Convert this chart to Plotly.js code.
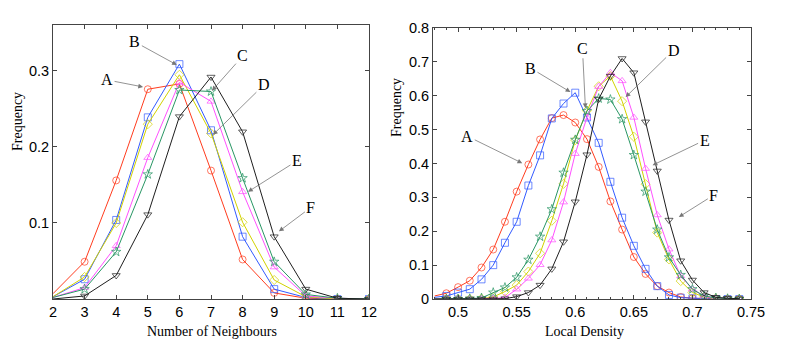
<!DOCTYPE html>
<html>
<head>
<meta charset="utf-8">
<script src="https://cdn.plot.ly/plotly-3.0.1.min.js"></script>
<style>
  body { margin: 0; background: #fff; }
  #chart { width: 789px; height: 341px; }
</style>
</head>
<body>
<div id="chart"></div>
<script>
// left panel: number of neighbours
var nbX = [2, 3, 4, 5, 6, 7, 8, 9, 10, 11, 12];
var nbA = [0.007, 0.049, 0.156, 0.276, 0.283, 0.169, 0.052, 0.008, 0.001, 0, 0];
var nbB = [0.003, 0.026, 0.104, 0.239, 0.309, 0.222, 0.082, 0.013, 0.002, 0, 0];
var nbYellow = [0.003, 0.029, 0.100, 0.230, 0.295, 0.218, 0.101, 0.025, 0.003, 0, 0];
var nbMagenta = [0.002, 0.015, 0.070, 0.186, 0.285, 0.260, 0.141, 0.042, 0.004, 0.001, 0];
var nbGreen = [0.002, 0.013, 0.062, 0.164, 0.275, 0.273, 0.159, 0.049, 0.006, 0.001, 0];
var nbBlack = [0, 0.004, 0.031, 0.111, 0.240, 0.292, 0.220, 0.082, 0.013, 0.001, 0];

// right panel: local density
var ldX = [0.48, 0.49, 0.50, 0.51, 0.52, 0.53, 0.54, 0.55, 0.56, 0.57, 0.58, 0.59, 0.60,
           0.61, 0.62, 0.63, 0.64, 0.65, 0.66, 0.67, 0.68, 0.69, 0.70, 0.71, 0.72, 0.73, 0.74];
var ldA = [0.009, 0.017, 0.035, 0.054, 0.093, 0.146, 0.228, 0.317, 0.397, 0.471, 0.534, 0.543, 0.521,
           0.472, 0.390, 0.288, 0.205, 0.124, 0.074, 0.038, 0.019, 0.006, 0.002, 0.001, 0, 0, 0];
var ldB = [0.005, 0.009, 0.019, 0.029, 0.058, 0.100, 0.166, 0.228, 0.335, 0.424, 0.533, 0.577, 0.609,
           0.536, 0.461, 0.346, 0.240, 0.157, 0.089, 0.038, 0.012, 0.004, 0.002, 0.001, 0, 0, 0];
var ldGreen = [0, 0, 0, 0.001, 0.003, 0.019, 0.034, 0.064, 0.116, 0.184, 0.265, 0.373, 0.470,
               0.555, 0.592, 0.589, 0.531, 0.425, 0.317, 0.205, 0.123, 0.071, 0.029, 0.009, 0.003, 0.001, 0];
var ldYellow = [0, 0, 0, 0, 0.001, 0.006, 0.022, 0.041, 0.081, 0.135, 0.231, 0.340, 0.469,
                0.556, 0.628, 0.658, 0.584, 0.479, 0.339, 0.196, 0.117, 0.053, 0.019, 0.006, 0.002, 0, 0];
var ldMagenta = [0, 0, 0, 0, 0, 0.002, 0.004, 0.029, 0.061, 0.101, 0.174, 0.286, 0.429,
                 0.536, 0.627, 0.668, 0.644, 0.536, 0.385, 0.248, 0.147, 0.068, 0.029, 0.008, 0.003, 0.001, 0];
var ldBlack = [0, 0, 0, 0, 0, 0, 0.001, 0.007, 0.019, 0.041, 0.089, 0.169, 0.287,
               0.426, 0.590, 0.658, 0.710, 0.668, 0.523, 0.378, 0.233, 0.113, 0.056, 0.019, 0.005, 0.002, 0.001];

var styles = [
  {color: 'rgb(255, 60, 30)', symbol: 'circle-open'},
  {color: 'rgb(50, 90, 255)', symbol: 'square-open'},
  {color: 'rgb(210, 210, 0)', symbol: 'diamond-open'},
  {color: 'rgb(255, 80, 255)', symbol: 'triangle-up-open'},
  {color: 'rgb(40, 150, 100)', symbol: 'star-open'},
  {color: 'rgb(30, 30, 30)', symbol: 'triangle-down-open'}
];

// first point sits on the left axis with no marker drawn
var sizes = (n) => Array.from({length: n}, (_, i) => i === 0 ? 0 : 7);

var mk = (x, y, s, xa, ya) => ({
  x: x, y: y, xaxis: xa, yaxis: ya,
  type: 'scatter', mode: 'lines+markers',
  line: {color: s.color, width: 1},
  marker: {symbol: s.symbol, size: sizes(x.length), color: s.color, line: {width: 1, color: s.color}},
  showlegend: false, cliponaxis: true
});

var left = [nbA, nbB, nbYellow, nbMagenta, nbGreen, nbBlack];
var right = [ldA, ldB, ldYellow, ldMagenta, ldGreen, ldBlack];
var data = [];
left.forEach((y, i) => data.push(mk(nbX, y, styles[i], 'x', 'y')));
right.forEach((y, i) => data.push(mk(ldX, y, styles[i], 'x2', 'y2')));

var W = 789, H = 341;
var tickFont = {family: 'Liberation Sans, Arial, sans-serif', size: 14.5, color: '#000'};
var axisBase = {
  showline: true, mirror: 'ticks', linecolor: '#444', linewidth: 1,
  ticks: 'inside', ticklen: 4, tickcolor: '#444',
  showgrid: false, zeroline: false, tickfont: tickFont
};

var serif = {family: 'Liberation Serif, Times New Roman, serif', size: 14, color: '#000'};
var letter = {family: 'Liberation Serif, Times New Roman, serif', size: 16, color: '#000'};

var txt = (text, px, py, angle) => ({
  text: text, xref: 'paper', yref: 'paper', x: px / W, y: 1 - py / H,
  xanchor: 'center', yanchor: 'middle',
  showarrow: false, font: serif, textangle: angle || 0
});
var lab = (text, xr, yr, x, y, ax, ay) => ({
  text: text, xref: xr, yref: yr, x: x, y: y, ax: ax, ay: ay,
  showarrow: true, arrowhead: 2, arrowsize: 1.2, arrowwidth: 0.8, arrowcolor: '#777',
  standoff: 0, startstandoff: 0, font: letter
});

var layout = {
  width: W, height: H,
  margin: {l: 0, r: 0, t: 0, b: 0},
  paper_bgcolor: '#fff', plot_bgcolor: '#fff',
  xaxis: Object.assign({}, axisBase, {
    domain: [53 / W, 369 / W], range: [2, 12], tickvals: nbX, anchor: 'y'
  }),
  yaxis: Object.assign({}, axisBase, {
    domain: [42 / H, 316 / H], range: [0, 0.3605], tickvals: [0.1, 0.2, 0.3], anchor: 'x'
  }),
  xaxis2: Object.assign({}, axisBase, {
    domain: [433 / W, 751 / W], range: [0.4786, 0.75], tickvals: [0.5, 0.55, 0.6, 0.65, 0.7, 0.75],
    ticktext: ['0.5', '0.55', '0.6', '0.65', '0.7', '0.75'], anchor: 'y2',
    minor: {dtick: 0.01, tick0: 0.48, ticks: 'inside', ticklen: 2, tickcolor: '#444'}
  }),
  yaxis2: Object.assign({}, axisBase, {
    domain: [42 / H, 313 / H], range: [0, 0.8], dtick: 0.1, tickformat: '.1~f', anchor: 'x2'
  }),
  annotations: [
    txt('Frequency', 17, 122, -90),
    txt('Number of Neighbours', 212, 331),
    txt('Frequency', 397, 108, -90),
    txt('Local Density', 584, 331),
    lab('A', 'x', 'y', 4.85, 0.279, -36, -7),
    lab('B', 'x', 'y', 5.92, 0.308, -42, -23),
    lab('C', 'x', 'y', 7.03, 0.274, 31, -35),
    lab('D', 'x', 'y', 7.06, 0.216, 51, -50),
    lab('E', 'x', 'y', 8.17, 0.141, 49, -31),
    lab('F', 'x', 'y', 9.15, 0.089, 32, -24),
    lab('A', 'x2', 'y2', 0.5548, 0.401, -55, -27),
    lab('B', 'x2', 'y2', 0.5959, 0.611, -40, -24),
    lab('C', 'x2', 'y2', 0.6087, 0.563, -3, -60),
    lab('D', 'x2', 'y2', 0.643, 0.596, 48, -47),
    lab('E', 'x2', 'y2', 0.666, 0.395, 52, -25),
    lab('F', 'x2', 'y2', 0.6884, 0.242, 35, -22)
  ]
};

Plotly.newPlot('chart', data, layout, {staticPlot: true});
</script>
</body>
</html>
